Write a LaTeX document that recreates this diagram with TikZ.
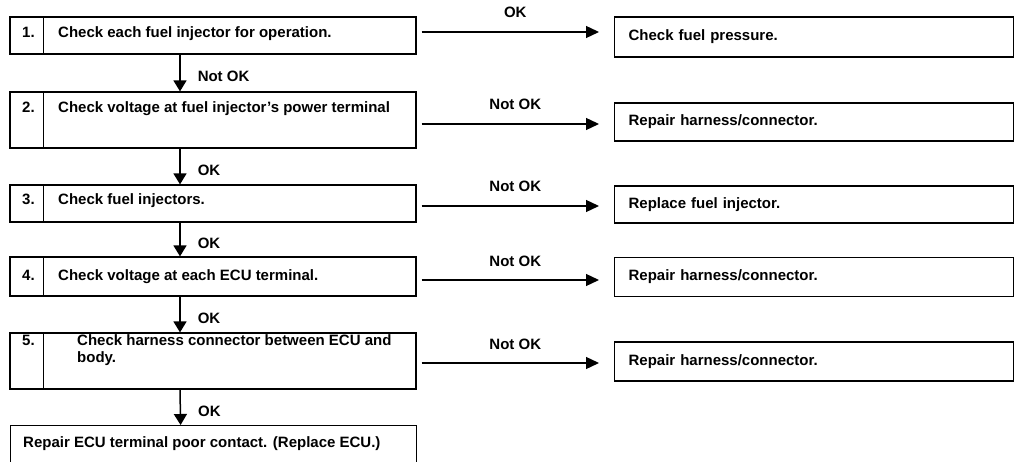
\documentclass[tikz,border=0pt]{standalone}
\usepackage{fontspec}
\setmainfont{Liberation Sans}
\usetikzlibrary{arrows.meta,calc}
\newcommand\fsz{\fontsize{15pt}{17pt}\selectfont\bfseries}
\begin{document}
\begin{tikzpicture}[x=1pt,y=1pt,
  box/.style={draw, line width=1.2pt, rectangle, inner sep=0pt, minimum width=406pt},
  rbox/.style={draw, line width=1.2pt, rectangle, text width=371pt, inner xsep=14pt, inner ysep=0pt, align=left, anchor=west, font=\fsz},
  txt/.style={anchor=base west, inner sep=0pt, font=\fsz},
  num/.style={anchor=base, inner sep=0pt, font=\fsz},
  lbl/.style={inner sep=0pt, font=\fsz},
  varr/.style={line width=1.5pt, -{Triangle[length=11pt,width=13pt]}},
  harr/.style={line width=1.3pt, -{Triangle[length=13pt,width=12pt]}},
  divline/.style={line width=1.2pt}]
\useasboundingbox (0,0) rectangle (1014,-462);
\clip (0,0) rectangle (1014,-462);

% left boxes
\node[box, minimum height=37pt] (b1) at (213,-35.5) {};
\node[box, minimum height=56pt] (b2) at (213,-120) {};
\node[box, minimum height=37pt] (b3) at (213,-203.5) {};
\node[box, minimum height=39pt] (b4) at (213,-276.5) {};
\node[box, minimum height=56pt] (b5) at (213,-361) {};
\node[box, minimum height=60pt, anchor=north west] (b6) at (10,-425) {};

% dividers
\foreach \b in {b1,b2,b3,b4,b5}{
  \draw[divline] ($(\b.north west)+(34,0)$) -- ($(\b.south west)+(34,0)$);
}

% numbers and texts
\node[num] (n1) at (28.5,-38) {1.};
\node[txt] (t1) at (58,-38) {Check each fuel injector for operation.};
\node[num] (n2) at (28.5,-113) {2.};
\node[txt] (t2) at (58,-113) {Check voltage at fuel injector's power terminal};
\node[num] (n3) at (28.5,-205) {3.};
\node[txt] (t3) at (58,-205) {Check fuel injectors.};
\node[num] (n4) at (28.5,-280) {4.};
\node[txt] (t4) at (58,-280) {Check voltage at each ECU terminal.};
\node[num] (n5) at (28.5,-345) {5.};
\node[txt] (t5a) at (77,-345) {Check harness connector between ECU and};
\node[txt] (t5b) at (77,-362) {body.};
\node[txt] (t6) at (23,-447) {Repair ECU terminal poor contact. (Replace ECU.)};

% right boxes
\node[rbox, minimum height=40pt] (r1) at (614,-37) {Check fuel pressure.};
\node[rbox, minimum height=38pt] (r2) at (614,-122) {Repair harness/connector.};
\node[rbox, minimum height=37pt] (r3) at (614,-204.5) {Replace fuel injector.};
\node[rbox, minimum height=38.5pt] (r4) at (614,-277) {Repair harness/connector.};
\node[rbox, minimum height=39pt] (r5) at (614,-361.5) {Repair harness/connector.};

% vertical arrows
\draw[varr] ($(b1.south)+(-33,0)$) -- ($(b2.north)+(-33,0)$) node[lbl, pos=0.6, anchor=west, xshift=17pt] {Not OK};
\draw[varr] ($(b2.south)+(-33,0)$) -- ($(b3.north)+(-33,0)$) node[lbl, pos=0.6, anchor=west, xshift=17pt] {OK};
\draw[varr] ($(b3.south)+(-33,0)$) -- ($(b4.north)+(-33,0)$) node[lbl, pos=0.6, anchor=west, xshift=17pt] {OK};
\draw[varr] ($(b4.south)+(-33,0)$) -- ($(b5.north)+(-33,0)$) node[lbl, pos=0.6, anchor=west, xshift=17pt] {OK};
\draw[varr] ($(b5.south)+(-33,0)$) -- ($(b6.north)+(-33,0)$) node[lbl, pos=0.6, anchor=west, xshift=17pt] {OK};

% horizontal arrows
\draw[harr] ($(b1.east)+(5,3.5)$) -- ($(r1.west |- b1.east)+(-15,3.5)$) node[lbl, midway, anchor=base, yshift=14pt, xshift=5pt] {OK};
\draw[harr] ($(b2.east)+(5,-4)$) -- ($(r2.west |- b2.east)+(-15,-4)$) node[lbl, midway, anchor=base, yshift=14pt, xshift=5pt] {Not OK};
\draw[harr] ($(b3.east)+(5,-2.5)$) -- ($(r3.west |- b3.east)+(-15,-2.5)$) node[lbl, midway, anchor=base, yshift=14pt, xshift=5pt] {Not OK};
\draw[harr] ($(b4.east)+(5,-3.5)$) -- ($(r4.west |- b4.east)+(-15,-3.5)$) node[lbl, midway, anchor=base, yshift=14pt, xshift=5pt] {Not OK};
\draw[harr] ($(b5.east)+(5,-2)$) -- ($(r5.west |- b5.east)+(-15,-2)$) node[lbl, midway, anchor=base, yshift=14pt, xshift=5pt] {Not OK};
\end{tikzpicture}
\end{document}
